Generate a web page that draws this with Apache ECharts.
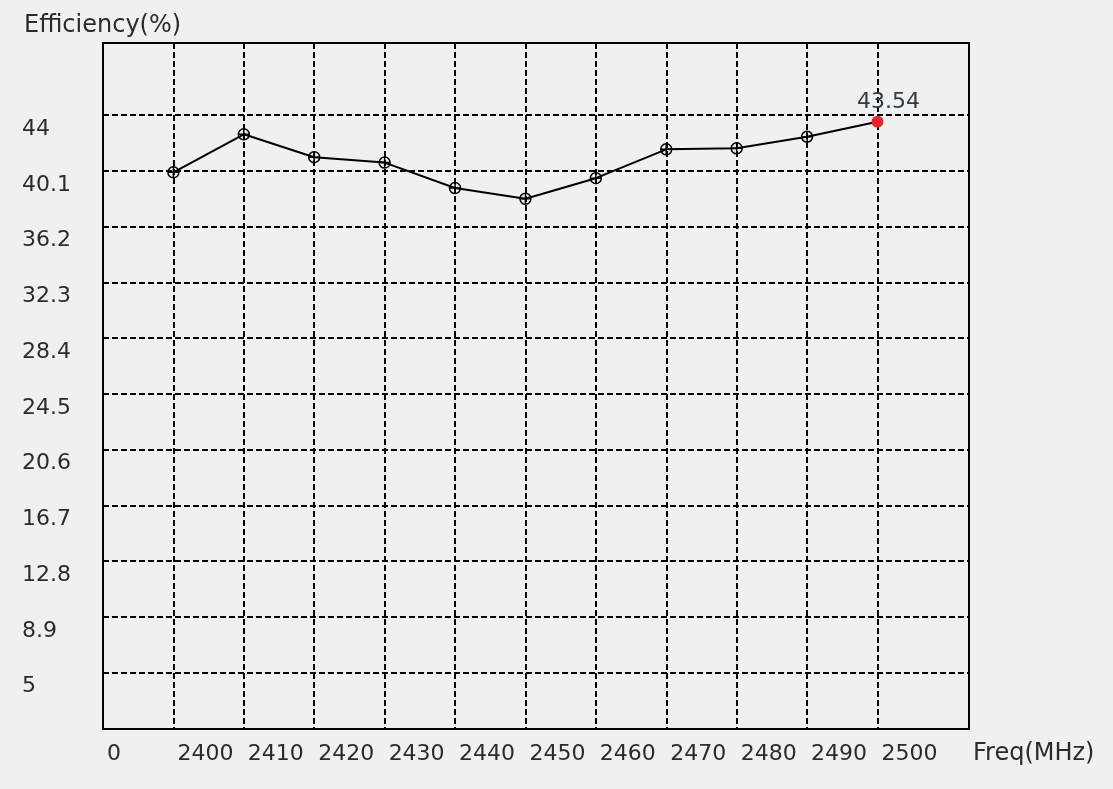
<!DOCTYPE html>
<html>
<head>
<meta charset="utf-8">
<script src="https://cdn.jsdelivr.net/npm/echarts@6/dist/echarts.min.js"></script>
<style>
html,body{margin:0;padding:0;background:#f0f0f0;}
#chart{width:1113px;height:789px;}
</style>
</head>
<body>
<div id="chart"></div>
<script>
// ---- data ----
const freqs = [2400, 2410, 2420, 2430, 2440, 2450, 2460, 2470, 2480, 2490, 2500];
const efficiency = [40.0, 42.66, 41.06, 40.68, 38.9, 38.15, 39.59, 41.61, 41.68, 42.49, 43.54];
const yTicks = [5, 8.9, 12.8, 16.7, 20.6, 24.5, 28.4, 32.3, 36.2, 40.1, 44];
const xTicks = [2390, 2400, 2410, 2420, 2430, 2440, 2450, 2460, 2470, 2480, 2490, 2500];
const xTickLabels = ['0', '2400', '2410', '2420', '2430', '2440', '2450', '2460', '2470', '2480', '2490', '2500'];
const xGridValues = [2400, 2410, 2420, 2430, 2440, 2450, 2460, 2470, 2480, 2490, 2500];
const yName = 'Efficiency(%)';
const xName = 'Freq(MHz)';
const highlightIndex = 10;

const FONT = 'DejaVu Sans';
const TXT = '#2b2b2b';

const seriesData = freqs.map((f, i) => {
  if (i === highlightIndex) {
    return {
      value: [f, efficiency[i]],
      symbol: 'circle',
      symbolSize: 12,
      itemStyle: { color: '#e3262d', borderColor: '#e3262d', borderWidth: 0 },
      label: {
        show: true, position: 'top', distance: 2, offset: [11, 0],
        formatter: p => p.value[1].toFixed(2),
        color: '#2e3a46', fontFamily: FONT, fontSize: 22
      }
    };
  }
  return [f, efficiency[i]];
});

const chart = echarts.init(document.getElementById('chart'));
chart.setOption({
  backgroundColor: '#f0f0f0',
  animation: false,
  title: {
    text: yName, left: 19, top: 9,
    textStyle: { fontFamily: FONT, fontSize: 24, fontWeight: 'normal', color: TXT }
  },
  grid: {
    left: 103, top: 43, right: 144, bottom: 60,
    show: true, borderColor: '#000', borderWidth: 2, backgroundColor: 'transparent'
  },
  xAxis: {
    type: 'value', min: 2390, max: 2513,
    name: xName, nameLocation: 'end', nameGap: 4,
    nameTextStyle: { fontFamily: FONT, fontSize: 24, color: TXT, verticalAlign: 'top', padding: [13, 0, 0, 0], align: 'left' },
    axisLine: { show: false },
    axisTick: { show: false, customValues: xGridValues },
    axisLabel: {
      customValues: xTicks, align: 'left', margin: 14,
      formatter: v => { const i = xTicks.indexOf(v); return i >= 0 ? xTickLabels[i] : ''; },
      fontFamily: FONT, fontSize: 22, color: TXT, padding: [0, 0, 0, 4]
    },
    splitLine: { show: true, lineStyle: { color: '#000', width: 2, type: [6, 3] } }
  },
  yAxis: {
    type: 'value', min: 1.05, max: 49.05,
    axisLine: { show: false },
    axisTick: { show: false, customValues: yTicks },
    axisLabel: {
      customValues: yTicks, align: 'left', verticalAlign: 'top', margin: 81,
      formatter: v => String(v),
      fontFamily: FONT, fontSize: 22, color: TXT, padding: [3, 0, 0, 0]
    },
    splitLine: { show: true, lineStyle: { color: '#000', width: 2, type: [6, 3] } }
  },
  series: [{
    type: 'line',
    data: seriesData,
    symbol: 'path://M5,0A5,5 0 1,1 4.99,0Z M0,5L10,5 M5,0L5,10',
    symbolSize: 11,
    showAllSymbol: true,
    lineStyle: { color: '#000', width: 2 },
    itemStyle: { color: 'rgba(0,0,0,0)', borderColor: '#000', borderWidth: 1.5 },
    z: 5
  }]
});
</script>
</body>
</html>
